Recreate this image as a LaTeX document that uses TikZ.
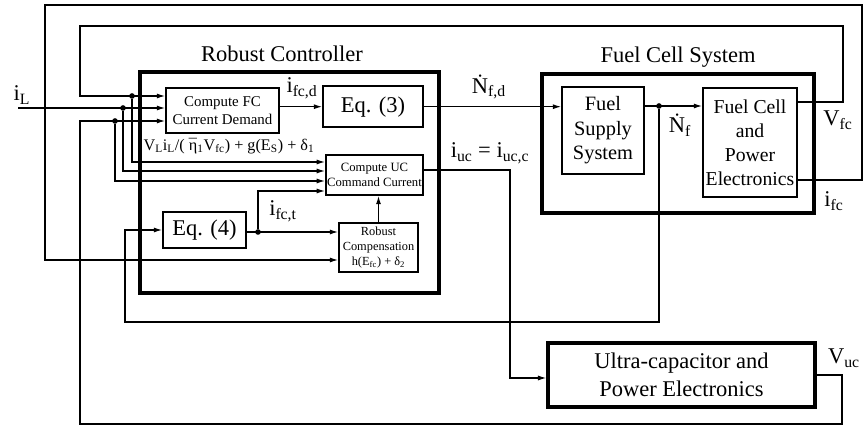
\documentclass[tikz,border=0pt]{standalone}
\usepackage{fontspec}
\setmainfont{Liberation Serif}
\usetikzlibrary{arrows.meta,positioning,calc}
\newcommand{\sbs}[1]{\textsubscript{#1}}
\newcommand{\etabar}{\rlap{¯}η}

\begin{document}
\begin{tikzpicture}[x=0.025cm,y=-0.025cm,
  wire/.style={line width=0.9pt},
  arr/.style={wire, -{Latex[length=6pt,width=3.6pt]}},
  blk/.style={draw, line width=1.1pt, align=center, inner sep=1pt},
  frame/.style={draw, line width=2.2pt},
  dot/.style={circle, fill, inner sep=0pt, minimum size=4pt},
  big/.style={font=\fontsize{16}{19.5}\selectfont}
]
\useasboundingbox (0,0) rectangle (864,431);

\node[frame, minimum width=7.475cm, minimum height=5.525cm] (ctrl) at (289.5,182.5) {};
\node[frame, minimum width=6.8cm, minimum height=3.475cm] (fcs) at (678,143.5) {};
\node[big] (ctrltitle) at (282,54) {Robust Controller};
\node[big] (fcstitle) at (678,57) {Fuel Cell System};

\node[blk, minimum width=2.825cm, minimum height=1.125cm, font=\fontsize{10.6}{12.5}\selectfont] (cfc) at (222.5,110.5) {Compute FC\\Current Demand};
\node[blk, big, minimum width=2.5cm, minimum height=1.025cm] (eq3) at (373,106.7) {Eq. (3)};
\node[blk, minimum width=2.425cm, minimum height=1cm, font=\fontsize{9}{11}\selectfont] (cuc) at (374.5,175) {Compute UC\\Command Current};
\node[blk, big, minimum width=2.075cm, minimum height=0.9cm] (eq4) at (204.5,230) {Eq. (4)};
\node[blk, minimum width=1.975cm, minimum height=1.225cm, font=\fontsize{8.8}{10.8}\selectfont] (rcomp) at (378.5,247.5) {Robust\\Compensation\\h(E\sbs{fc}) + δ\sbs{2}};
\node[blk, minimum width=2.05cm, minimum height=2.175cm, font=\fontsize{14.5}{17.4}\selectfont] (fss) at (603,130.5) {Fuel\\Supply\\System};
\node[blk, minimum width=2.35cm, minimum height=2.725cm, font=\fontsize{14}{17}\selectfont] (fcpe) at (750,142.5) {Fuel Cell\\and\\Power\\Electronics};
\node[blk, big, line width=2.2pt, minimum width=6.675cm, minimum height=1.6cm] (ucpe) at (681.5,375) {Ultra-capacitor and\\Power Electronics};

\coordinate (iL) at (18,108);
\coordinate (vfc) at (843,102);
\node[dot] (d1) at (132,96) {};
\node[dot] (d2) at (123,108) {};
\node[dot] (d3) at (115,121) {};
\node[dot] (d4) at (659,106) {};
\node[dot] (d5) at (258,232) {};

\draw[arr] (iL) -- (cfc.west|-iL);
\draw[arr] (fcpe.east|-vfc) -- (vfc) -- (843,26) -- (80,26) -- (80,96) -- (cfc.west|-d1);
\draw[arr] (ucpe.east) -- (842,375) -- (842,424) -- (80,424) -- (80,121) -- (cfc.west|-d3);
\draw[arr] (fcpe.east|-0,180) -- (862,180) -- (862,5) -- (45,5) -- (45,260) -- (rcomp.west|-0,260);
\draw[arr] (d1) |- (cuc.west|-0,162);
\draw[arr] (d2) |- (cuc.west|-0,171);
\draw[arr] (d3) |- (cuc.west|-0,181);
\draw[arr] (cfc.east|-eq3) -- (eq3);
\draw[arr] (eq3) -- (fss.west|-eq3);
\draw[arr] (fss.east|-d4) -- (fcpe.west|-d4);
\draw[arr] (d4) -- (659,322) -- (125,322) -- (125,230) -- (eq4.west);
\draw[arr] (cuc.east|-0,170) -- (510,170) -- (510,378) -- (ucpe.west|-0,378);
\draw[arr] (eq4.east|-d5) -- (rcomp.west|-d5);
\draw[arr] (d5) |- (cuc.west|-0,191);
\draw[arr] (rcomp.north) -- (rcomp.north|-cuc.south);

\node[big] (liL) at (22,95) {i\sbs{L}};
\node[big] (lifcd) at (302,88) {i\sbs{fc,d}};
\node[big] (lNfd) at (489,87) {\.{N}\sbs{f,d}};
\node[big] (liuc) at (490,153) {i\sbs{uc} = i\sbs{uc,c}};
\node[big] (lifct) at (283,211) {i\sbs{fc,t}};
\node[big] (lNf) at (680,125) {\.{N}\sbs{f}};
\node[big] (lVfc) at (838,120) {V\sbs{fc}};
\node[big] (lifc) at (834,201) {i\sbs{fc}};
\node[big] (lVuc) at (844,358) {V\sbs{uc}};
\node[font=\fontsize{11.5}{14}\selectfont] (lform) at (229,146) {V\sbs{L}i\sbs{L}/( \etabar\sbs{1}V\sbs{fc}) + g(E\sbs{S}) + δ\sbs{1}};
\end{tikzpicture}
\end{document}
